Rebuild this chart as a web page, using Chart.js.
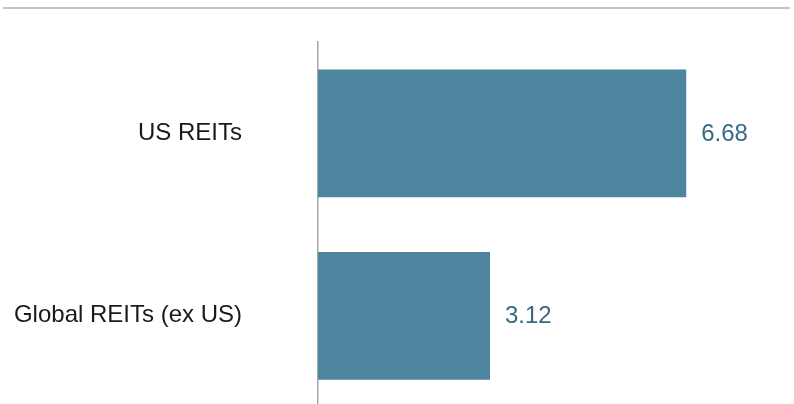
<!DOCTYPE html>
<html>
<head>
<meta charset="utf-8">
<script src="https://cdn.jsdelivr.net/npm/chart.js@4"></script>
<style>
  html, body { margin: 0; padding: 0; background: #fff; overflow: hidden; }
  canvas { display: block; }
</style>
</head>
<body>
<canvas id="myChart" width="794" height="407"></canvas>
<script>
var categories = ['US REITs', 'Global REITs (ex US)']
var values = [6.68, 3.12]
var barColor = '#4d859e'
var labelColor = '#3b6885'

// grey rule across the top + value labels at bar ends
var extras = {
  id: 'extras',
  beforeDraw: function (chart) {
    var ctx = chart.ctx
    ctx.save()
    ctx.strokeStyle = '#c3c3c3'
    ctx.lineWidth = 2
    ctx.beginPath()
    ctx.moveTo(3, 8)
    ctx.lineTo(790, 8)
    ctx.stroke()
    ctx.restore()
  },
  afterDatasetsDraw: function (chart) {
    var ctx = chart.ctx
    var meta = chart.getDatasetMeta(0)
    ctx.save()
    ctx.font = '24px "Liberation Sans", Arial, sans-serif'
    ctx.fillStyle = labelColor
    ctx.textAlign = 'left'
    ctx.textBaseline = 'middle'
    meta.data.forEach(function (bar, i) {
      ctx.fillText(values[i].toFixed(2), bar.x + 15, bar.y + 1)
    })
    ctx.restore()
  }
}

new Chart('myChart', {
  type: 'bar',
  data: {
    labels: categories,
    datasets: [
      {
        data: values,
        backgroundColor: barColor,
        barPercentage: 0.7,
        categoryPercentage: 1.0,
      },
    ],
  },
  options: {
    indexAxis: 'y',
    responsive: false,
    animation: false,
    layout: { padding: { top: 42, right: 35, bottom: 0, left: 0 } },
    plugins: {
      legend: { display: false },
      tooltip: { enabled: false },
    },
    scales: {
      x: {
        display: false,
        min: 0,
        max: 8,
      },
      y: {
        afterFit: function (scale) {
          scale.width = 318
          scale.paddingTop = 0
          scale.paddingBottom = 0
        },
        grid: { display: false, drawTicks: false },
        border: { display: true, color: '#a8a8a8', width: 1.5 },
        ticks: {
          padding: 76,
          color: '#1a1a1a',
          font: { family: '"Liberation Sans", Arial, sans-serif', size: 24 },
        },
      },
    },
  },
  plugins: [extras],
})
</script>
</body>
</html>
